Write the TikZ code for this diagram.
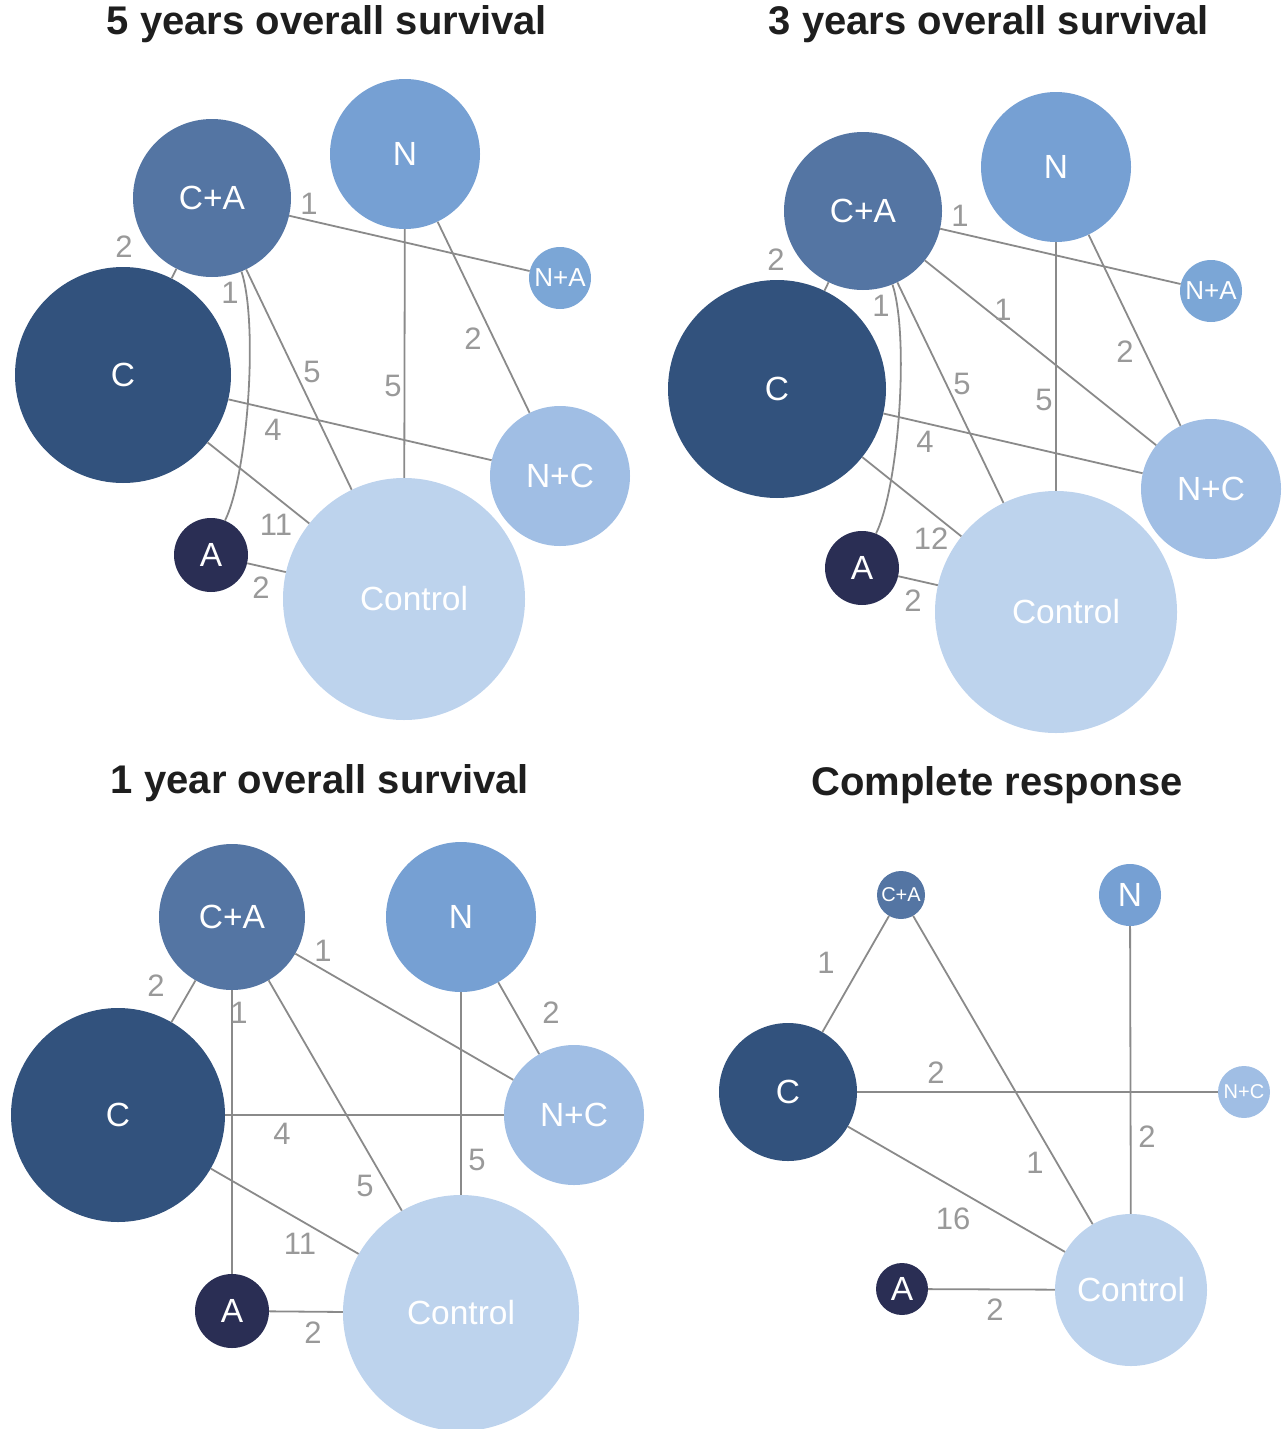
\documentclass[tikz,border=0pt]{standalone}
\usepackage{fontspec}
\setmainfont{Liberation Sans}
\usetikzlibrary{positioning}
\definecolor{colC}{HTML}{32527D}
\definecolor{colCA}{HTML}{5475A3}
\definecolor{colN}{HTML}{76A0D3}
\definecolor{colNA}{HTML}{7BA6D6}
\definecolor{colNC}{HTML}{A0BEE4}
\definecolor{colCtrl}{HTML}{BDD3ED}
\definecolor{colA}{HTML}{2A2E54}
\definecolor{edgeGray}{HTML}{8A8A8A}
\definecolor{labelGray}{HTML}{999999}
\definecolor{titleBlack}{HTML}{1E1E1E}

\begin{document}
\begin{tikzpicture}[
            x=1pt, y=-1pt,
            bubble/.style={
                    circle,
                    inner sep=0pt,
                    text=white,
                    font=\fontsize{33.5}{38}\selectfont
                },
            small/.style={font=\fontsize{26}{30}\selectfont},
            tiny/.style={font=\fontsize{20}{24}\selectfont},
            link/.style={draw=edgeGray, line width=1.8pt},
            num/.style={text=labelGray, inner sep=0pt, font=\fontsize{31}{36}\selectfont},
            heading/.style={text=titleBlack, inner sep=0pt, font=\bfseries\fontsize{40}{46}\selectfont}
        ]
        \useasboundingbox (0,0) rectangle (1284,1429);

        \node[heading] (t1) at (327,24) {5 years overall survival};
        \node[bubble, fill=colCA, minimum size=158pt] (ca1) at (212,198) {C+A};
        \node[bubble, fill=colN, minimum size=150pt] (n1) at (405,154) {N};
        \node[bubble, small, fill=colNA, minimum size=62pt] (na1) at (560,278) {N+A};
        \node[bubble, fill=colC, minimum size=216pt] (c1) at (123,375) {C};
        \node[bubble, fill=colNC, minimum size=140pt] (nc1) at (560,476) {N+C};
        \node[bubble, fill=colA, minimum size=74pt] (a1) at (211,555) {A};
        \node[bubble, fill=colCtrl, minimum size=242pt] (ctrl1) at (404,599) {\hspace*{20pt}Control};
        \draw[link] (ca1) -- (na1);
        \draw[link] (ca1) -- (c1);
        \draw[link] (ca1) to[bend left=22, looseness=0.55] (a1);
        \draw[link] (ca1) -- (ctrl1);
        \draw[link] (n1) -- (ctrl1);
        \draw[link] (n1) -- (nc1);
        \draw[link] (c1) -- (nc1);
        \draw[link] (c1) -- (ctrl1);
        \draw[link] (a1) -- (ctrl1);
        \node[num] (w1a) at (309,204) {1};
        \node[num] (w1b) at (124,247) {2};
        \node[num] (w1c) at (230,293) {1};
        \node[num] (w1d) at (312,372) {5};
        \node[num] (w1e) at (393,386) {5};
        \node[num] (w1f) at (473,339) {2};
        \node[num] (w1g) at (273,430) {4};
        \node[num] (w1h) at (276,525) {11};
        \node[num] (w1i) at (261,588) {2};

        \node[heading] (t2) at (989,24) {3 years overall survival};
        \node[bubble, fill=colCA, minimum size=158pt] (ca2) at (863,211) {C+A};
        \node[bubble, fill=colN, minimum size=150pt] (n2) at (1056,167) {N};
        \node[bubble, small, fill=colNA, minimum size=62pt] (na2) at (1211,291) {N+A};
        \node[bubble, fill=colC, minimum size=218pt] (c2) at (777,389) {C};
        \node[bubble, fill=colNC, minimum size=140pt] (nc2) at (1211,489) {N+C};
        \node[bubble, fill=colA, minimum size=74pt] (a2) at (862,568) {A};
        \node[bubble, fill=colCtrl, minimum size=242pt] (ctrl2) at (1056,612) {\hspace*{20pt}Control};
        \draw[link] (ca2) -- (na2);
        \draw[link] (ca2) -- (c2);
        \draw[link] (ca2) to[bend left=22, looseness=0.55] (a2);
        \draw[link] (ca2) -- (ctrl2);
        \draw[link] (ca2) -- (nc2);
        \draw[link] (n2) -- (ctrl2);
        \draw[link] (n2) -- (nc2);
        \draw[link] (c2) -- (nc2);
        \draw[link] (c2) -- (ctrl2);
        \draw[link] (a2) -- (ctrl2);
        \node[num] (w2a) at (960,216) {1};
        \node[num] (w2b) at (776,260) {2};
        \node[num] (w2c) at (881,306) {1};
        \node[num] (w2d) at (962,384) {5};
        \node[num] (w2e) at (1003,310) {1};
        \node[num] (w2f) at (1044,400) {5};
        \node[num] (w2g) at (1125,352) {2};
        \node[num] (w2h) at (925,442) {4};
        \node[num] (w2i) at (931,539) {12};
        \node[num] (w2j) at (913,601) {2};

        \node[heading] (t3) at (320,783) {1 year overall survival};
        \node[bubble, fill=colCA, minimum size=146pt] (ca3) at (232,917) {C+A};
        \node[bubble, fill=colN, minimum size=150pt] (n3) at (461,917) {N};
        \node[bubble, fill=colC, minimum size=214pt] (c3) at (118,1115) {C};
        \node[bubble, fill=colNC, minimum size=140pt] (nc3) at (574,1115) {N+C};
        \node[bubble, fill=colA, minimum size=74pt] (a3) at (232,1311) {A};
        \node[bubble, fill=colCtrl, minimum size=236pt] (ctrl3) at (461,1313) {Control};
        \draw[link] (ca3) -- (c3);
        \draw[link] (ca3) -- (a3);
        \draw[link] (ca3) -- (nc3);
        \draw[link] (ca3) -- (ctrl3);
        \draw[link] (n3) -- (ctrl3);
        \draw[link] (n3) -- (nc3);
        \draw[link] (c3) -- (nc3);
        \draw[link] (c3) -- (ctrl3);
        \draw[link] (a3) -- (ctrl3);
        \node[num] (w3a) at (156,986) {2};
        \node[num] (w3b) at (239,1013) {1};
        \node[num] (w3c) at (323,951) {1};
        \node[num] (w3d) at (365,1186) {5};
        \node[num] (w3e) at (477,1160) {5};
        \node[num] (w3f) at (551,1013) {2};
        \node[num] (w3g) at (282,1134) {4};
        \node[num] (w3h) at (300,1244) {11};
        \node[num] (w3i) at (313,1333) {2};

        \node[heading] (t4) at (997,785) {Complete response};
        \node[bubble, tiny, fill=colCA, minimum size=48pt] (ca4) at (901,895) {C+A};
        \node[bubble, fill=colN, minimum size=62pt] (n4) at (1130,895) {N};
        \node[bubble, fill=colC, minimum size=138pt] (c4) at (788,1092) {C};
        \node[bubble, tiny, fill=colNC, minimum size=52pt] (nc4) at (1244,1092) {N+C};
        \node[bubble, fill=colA, minimum size=52pt] (a4) at (902,1289) {A};
        \node[bubble, fill=colCtrl, minimum size=152pt] (ctrl4) at (1131,1290) {Control};
        \draw[link] (ca4) -- (c4);
        \draw[link] (ca4) -- (ctrl4);
        \draw[link] (c4) -- (nc4);
        \draw[link] (n4) -- (ctrl4);
        \draw[link] (c4) -- (ctrl4);
        \draw[link] (a4) -- (ctrl4);
        \node[num] (w4a) at (826,963) {1};
        \node[num] (w4b) at (1035,1163) {1};
        \node[num] (w4c) at (936,1073) {2};
        \node[num] (w4d) at (1147,1137) {2};
        \node[num] (w4e) at (953,1219) {16};
        \node[num] (w4f) at (995,1310) {2};
    \end{tikzpicture}
\end{document}
